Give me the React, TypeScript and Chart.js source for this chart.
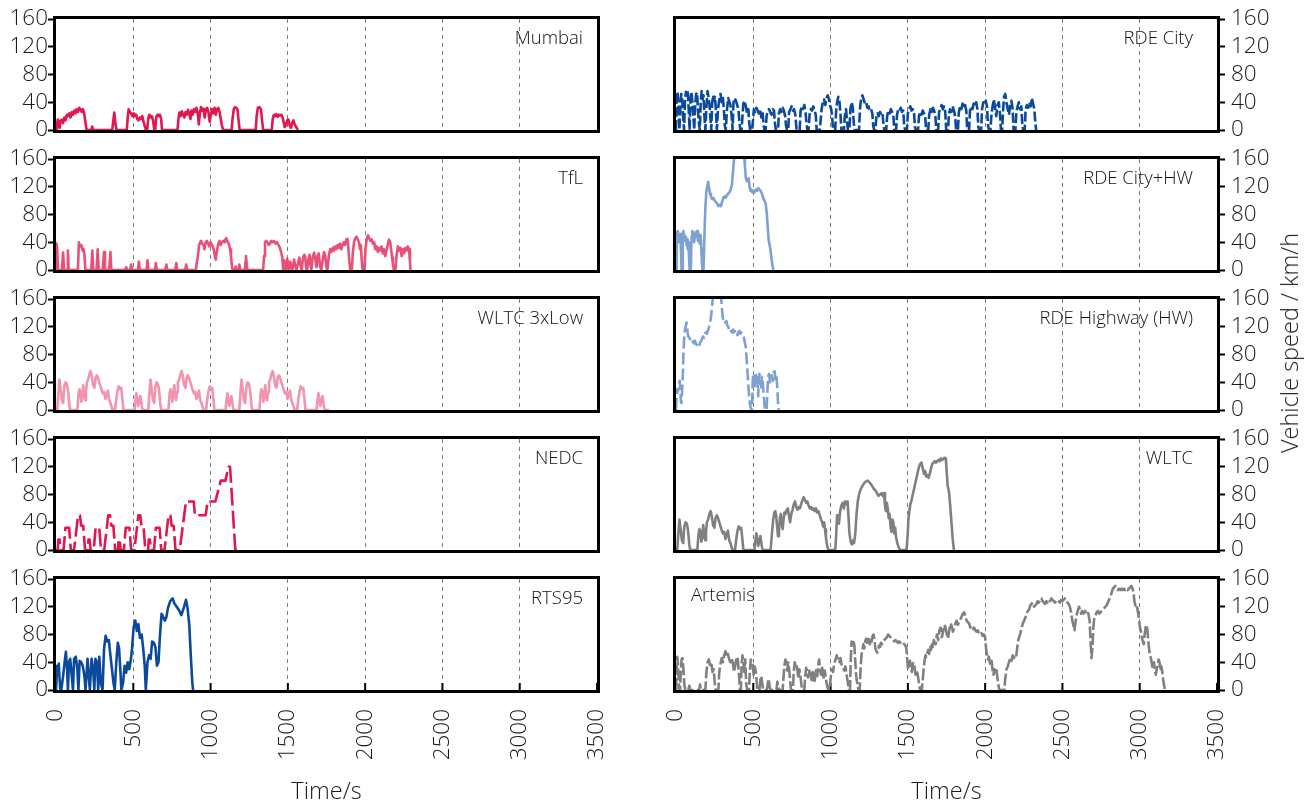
import React, { useEffect, useRef } from 'react';
import { Chart, registerables } from 'chart.js';

Chart.register(...registerables);
Chart.defaults.font.family = '"Open Sans", "DejaVu Sans", sans-serif';

type Pt = [number, number];

// ---- axis ticks -----------------------------------------------------------
const TIME_TICKS = [0, 500, 1000, 1500, 2000, 2500, 3000, 3500];
const SPEED_TICKS = [0, 40, 80, 120, 160];

// ---- drive cycles: [time s, speed km/h] -----------------------------------
const MUMBAI: Pt[] = [
  [0,0],[6,8],[12,15],[18,6],[24,3],[30,14],[38,15],[46,10],[54,18],[62,14],[70,22],[78,20],[86,24],[94,18],[102,26],[110,22],[118,28],[126,24],[134,30],[142,26],[150,32],[158,30],[166,26],[174,30],[182,24],[190,12],[198,0],
  [228,0],[234,5],[240,0],[364,0],[370,12],[377,25],[384,10],[392,0],
  [458,0],[464,18],[470,30],[478,26],[486,24],[494,20],[502,24],[510,20],[518,22],[526,16],[534,14],[542,18],[550,16],[558,20],[566,12],[574,6],[582,0],
  [590,0],[596,16],[604,22],[612,18],[620,20],[628,14],[636,0],[642,0],[648,18],[656,22],[664,20],[672,22],[680,16],[686,0],
  [786,0],[792,16],[798,25],[806,20],[814,27],[822,22],[830,18],[838,26],[846,22],[854,29],[862,24],[870,16],[876,28],[884,22],[892,30],[900,26],[908,32],[916,26],[924,8],[930,22],[938,33],[946,28],[954,31],[962,18],[970,30],[978,32],[986,26],[994,12],[1002,22],[1010,30],[1018,24],[1026,32],[1034,22],[1042,30],[1050,32],[1058,26],[1066,16],[1074,6],[1082,0],
  [1136,0],[1142,16],[1150,30],[1158,33],[1166,32],[1174,30],[1182,12],[1188,0],
  [1292,0],[1298,20],[1306,32],[1316,33],[1326,30],[1334,12],[1340,0],
  [1396,0],[1402,16],[1410,22],[1418,20],[1426,23],[1434,19],[1442,22],[1450,21],[1458,22],[1466,18],[1474,10],[1480,4],[1488,8],[1496,14],[1504,15],[1512,6],[1520,3],[1528,10],[1536,14],[1544,8],[1552,5],[1560,2],[1566,0],
];

const TFL: Pt[] = [
  [0,0],[3,38],[8,30],[13,0],[38,0],[46,25],[52,0],[72,0],[77,28],[82,0],[142,0],[148,40],[156,34],[164,36],[172,28],[178,30],[184,22],[190,0],
  [228,0],[235,28],[241,0],[262,0],[270,30],[276,0],[302,0],[311,26],[317,0],[344,0],[352,26],[358,0],
  [448,0],[454,4],[460,0],[480,0],[486,8],[492,0],[530,0],[536,12],[542,0],[586,0],[592,14],[598,0],[640,0],[646,10],[652,0],[708,0],[714,8],[720,0],[772,0],[778,10],[784,0],[836,0],[842,8],[848,0],[905,0],
  [912,12],[918,20],[926,36],[938,42],[946,38],[954,36],[960,30],[968,40],[976,42],[984,38],[992,34],[1000,40],[1010,36],[1020,30],[1028,20],[1034,15],[1040,26],[1050,38],[1058,42],[1066,36],[1074,40],[1082,42],[1090,40],[1096,44],[1102,46],[1110,40],[1118,38],[1126,30],[1132,20],[1138,6],[1142,0],
  [1156,0],[1162,5],[1166,0],[1180,0],[1186,8],[1192,0],[1222,0],[1226,12],[1229,20],[1234,8],[1238,0],[1340,0],
  [1346,20],[1352,40],[1360,42],[1368,40],[1376,36],[1384,38],[1392,42],[1400,40],[1410,42],[1420,38],[1430,40],[1440,36],[1448,32],[1456,26],[1464,18],[1470,0],
  [1476,14],[1482,6],[1488,0],[1496,16],[1502,8],[1508,0],[1516,12],[1522,4],[1530,0],[1540,15],[1548,6],[1556,0],[1566,10],[1574,18],[1582,6],[1590,0],[1598,18],[1606,22],[1612,20],[1618,4],[1624,0],[1632,14],[1640,22],[1646,8],[1652,0],[1660,18],[1670,25],[1678,14],[1686,4],[1692,20],[1700,24],[1708,6],[1716,0],[1724,12],[1734,26],[1742,20],[1750,4],[1756,0],
  [1766,22],[1774,30],[1782,26],[1790,32],[1798,28],[1806,34],[1814,30],[1822,36],[1830,32],[1838,38],[1846,30],[1854,36],[1862,40],[1870,36],[1878,44],[1886,45],[1892,30],[1898,12],[1904,0],
  [1914,0],[1920,24],[1928,40],[1936,46],[1944,48],[1952,44],[1960,40],[1966,30],[1972,36],[1978,14],[1984,0],
  [1996,0],[2002,30],[2010,44],[2018,50],[2026,46],[2034,42],[2042,44],[2050,38],[2058,40],[2066,30],[2074,34],[2082,26],[2090,32],[2098,28],[2106,34],[2114,24],[2122,30],[2130,20],[2138,28],[2146,36],[2154,44],[2162,40],[2168,30],[2174,18],[2180,8],[2186,0],
  [2196,0],[2204,22],[2212,34],[2220,28],[2228,32],[2236,20],[2244,30],[2252,24],[2260,32],[2268,28],[2276,34],[2284,30],[2290,12],[2294,0],
];

// One WLTC Class 3 low phase (0-589 s)
const WLTC_LOW: Pt[] = [
  [0,0],[8,0],[14,20],[22,44],[30,30],[38,14],[46,10],[54,34],[62,40],[70,38],[78,28],[86,8],[92,0],
  [138,0],[146,24],[152,30],[158,26],[164,12],[170,20],[176,36],[182,22],[188,14],[194,26],[200,40],[208,44],[216,52],[224,56],[232,48],[240,36],[248,32],[256,46],[264,50],[272,46],[280,40],[288,34],[296,28],[304,24],[312,26],[320,16],[328,22],[336,28],[344,14],[352,10],[360,4],[366,0],
  [382,0],[390,16],[398,28],[406,34],[414,30],[422,32],[430,14],[436,0],
  [508,0],[514,14],[520,24],[526,16],[532,6],[540,14],[546,20],[552,10],[558,2],[566,0],[589,0],
];
const LOW_PHASE_OFFSETS = [0, 589, 1178];

const WLTC_MEDIUM: Pt[] = [
  [612,0],[620,22],[628,42],[636,54],[642,56],[648,50],[654,34],[660,20],[666,26],[672,46],[678,52],[684,40],[690,30],[696,44],[702,54],[708,52],[716,58],[724,60],[730,50],[738,40],[746,52],[754,58],[762,66],[770,70],[778,62],[786,58],[794,62],[802,60],[810,66],[818,72],[826,76],[834,72],[842,68],[850,70],[858,64],[866,60],[874,62],[882,58],[890,60],[898,56],[906,60],[914,54],[922,56],[930,50],[938,44],[946,40],[952,34],[958,40],[964,30],[970,18],[978,6],[986,0],[1030,0],
];
const WLTC_HIGH: Pt[] = [
  [1036,20],[1042,50],[1048,44],[1054,38],[1062,56],[1070,64],[1078,68],[1086,60],[1094,70],[1102,66],[1110,70],[1116,48],[1122,24],[1130,12],[1138,8],[1146,14],[1152,10],[1160,24],[1168,52],[1176,70],[1184,80],[1192,86],[1200,90],[1210,94],[1220,97],[1230,99],[1240,100],[1250,98],[1260,95],[1270,92],[1280,88],[1290,86],[1300,82],[1310,78],[1320,80],[1330,82],[1338,78],[1346,82],[1352,64],[1358,56],[1364,68],[1370,60],[1376,46],[1382,52],[1388,34],[1394,26],[1400,44],[1406,40],[1412,24],[1418,32],[1424,18],[1432,10],[1440,4],[1450,0],[1492,0],
];
const WLTC_EXTRA_HIGH: Pt[] = [
  [1498,20],[1504,44],[1510,56],[1516,66],[1522,70],[1528,76],[1534,82],[1540,88],[1548,96],[1556,104],[1564,112],[1572,120],[1580,124],[1588,126],[1596,118],[1604,110],[1612,114],[1618,106],[1626,108],[1634,104],[1642,110],[1650,118],[1658,124],[1666,126],[1674,128],[1682,126],[1690,128],[1698,130],[1706,128],[1714,132],[1722,130],[1730,131],[1738,133],[1746,132],[1752,110],[1758,92],[1766,84],[1774,64],[1782,40],[1790,16],[1798,0],
];

const NEDC: Pt[] = [
  [0,0],[11,0],[15,15],[23,15],[28,0],[49,0],[61,32],[85,32],[96,0],[117,0],[143,50],[155,50],[163,35],[176,35],[188,0],
  [206,0],[210,15],[218,15],[223,0],[244,0],[256,32],[280,32],[291,0],[312,0],[338,50],[350,50],[358,35],[371,35],[383,0],
  [401,0],[405,15],[413,15],[418,0],[439,0],[451,32],[475,32],[486,0],[507,0],[533,50],[545,50],[553,35],[566,35],[578,0],
  [596,0],[600,15],[608,15],[613,0],[634,0],[646,32],[670,32],[681,0],[702,0],[728,50],[740,50],[748,35],[761,35],[773,0],
  [800,0],[841,70],[891,70],[899,50],[968,50],[981,70],[1031,70],[1066,100],[1096,100],[1116,120],[1126,120],[1160,0],[1180,0],
];

const RTS95: Pt[] = [
  [0,0],[8,35],[14,28],[18,38],[22,20],[28,0],[34,0],[46,20],[56,40],[64,55],[72,30],[77,0],[84,40],[92,45],[102,20],[110,0],[117,45],[128,48],[138,30],[145,0],[153,42],[163,40],[173,35],[184,20],[191,0],[204,45],[212,20],[219,0],[230,45],[240,30],[248,0],[255,45],[265,40],[273,0],[280,48],[290,10],[301,0],
  [311,60],[321,78],[331,70],[342,72],[352,50],[362,30],[372,10],[380,0],[390,40],[400,68],[408,60],[416,30],[423,0],[434,10],[444,35],[454,25],[464,40],[474,30],[485,45],[492,60],[502,90],[513,100],[523,85],[533,95],[543,75],[554,80],[564,60],[574,35],[581,0],
  [592,40],[602,50],[612,45],[622,70],[633,68],[643,62],[653,35],[663,40],[673,80],[683,110],[694,105],[704,100],[714,105],[724,118],[739,128],[755,132],[765,125],[781,120],[796,115],[811,108],[826,118],[841,130],[851,118],[862,95],[872,50],[882,10],[887,0],
];

const RDE_CITY: Pt[] = [
  [0,0],[4,50],[10,55],[16,40],[22,0],[28,30],[34,52],[40,46],[46,20],[52,0],[58,40],[64,55],[70,50],[76,56],[82,30],[88,0],[94,45],[100,55],[106,40],[112,20],[118,0],[124,36],[130,52],[136,54],[142,30],[148,10],[154,0],[160,40],[166,56],[172,44],[178,50],[184,20],[190,0],[196,30],[204,56],[210,48],[216,38],[222,20],[228,0],[234,38],[240,50],[246,42],[252,48],[258,30],[264,0],[272,30],[280,44],[288,52],[296,40],[304,46],[310,28],[316,6],[322,0],[330,30],[338,46],[346,40],[352,36],[360,20],[366,0],
  [372,40],[380,46],[388,42],[396,36],[404,30],[410,12],[416,0],[424,0],[430,20],[436,38],[444,42],[452,34],[460,24],[468,30],[474,10],[480,0],[492,0],[498,14],[504,30],[512,26],[520,32],[528,28],[536,24],[544,30],[552,18],[560,26],[566,8],[572,0],[580,0],[586,20],[594,28],[602,30],[610,26],[618,22],[626,30],[634,28],[640,10],[646,0],[660,0],[666,24],[674,30],[682,26],[690,32],[698,28],[706,20],[712,6],[718,0],[726,0],[732,26],[740,30],[748,34],[756,28],[764,30],[772,22],[780,0],
  [800,0],[806,28],[814,34],[822,30],[830,36],[838,26],[844,10],[850,0],[858,0],[864,22],[872,30],[880,28],[888,34],[896,28],[904,22],[910,0],[930,0],[936,14],[942,30],[950,40],[958,44],[966,36],[974,46],[982,50],[990,44],[996,36],[1004,30],[1010,20],[1016,0],[1030,0],[1036,28],[1042,40],[1050,48],[1058,40],[1064,24],[1070,0],[1086,0],[1092,20],[1100,30],[1106,14],[1112,0],[1122,0],[1128,30],[1136,40],[1144,32],[1150,10],[1156,0],
  [1184,0],[1190,30],[1198,46],[1206,50],[1214,44],[1222,38],[1230,40],[1238,32],[1246,34],[1254,28],[1262,30],[1270,24],[1276,6],[1282,0],[1290,0],[1296,18],[1304,24],[1312,20],[1320,26],[1328,22],[1336,24],[1342,8],[1348,0],[1360,0],[1366,20],[1374,28],[1382,24],[1390,30],[1398,26],[1406,22],[1412,0],[1424,0],[1430,22],[1438,30],[1446,28],[1454,32],[1462,26],[1470,28],[1476,8],[1482,0],[1494,0],[1500,24],[1508,30],[1516,34],[1524,28],[1532,30],[1540,24],[1546,4],[1552,0],
  [1566,0],[1572,20],[1580,26],[1588,22],[1596,28],[1604,24],[1612,20],[1618,0],[1632,0],[1638,22],[1646,30],[1654,26],[1662,32],[1670,28],[1678,20],[1684,0],[1696,0],[1702,26],[1710,30],[1718,36],[1726,30],[1734,34],[1742,26],[1748,0],[1760,0],[1766,24],[1774,30],[1782,26],[1790,34],[1798,28],[1806,20],[1812,0],[1824,0],[1830,26],[1838,34],[1846,30],[1854,38],[1862,32],[1870,36],[1878,28],[1884,0],
  [1896,0],[1902,28],[1910,34],[1918,30],[1926,38],[1934,34],[1942,40],[1950,30],[1956,4],[1962,0],[1974,0],[1980,30],[1988,40],[1996,36],[2004,42],[2012,34],[2018,8],[2024,0],[2034,0],[2040,20],[2048,34],[2056,44],[2064,32],[2072,20],[2080,36],[2088,40],[2096,24],[2102,0],[2110,0],[2116,28],[2122,48],[2130,52],[2138,40],[2146,30],[2154,22],[2162,36],[2170,42],[2178,30],[2184,0],
  [2196,0],[2202,26],[2210,34],[2218,40],[2226,30],[2234,34],[2240,10],[2246,0],[2256,0],[2262,30],[2270,36],[2278,32],[2286,40],[2294,34],[2302,46],[2310,38],[2318,30],[2324,12],[2330,0],
];

const RDE_CITY_HW: Pt[] = [
  [0,0],[4,54],[8,46],[12,56],[16,40],[20,48],[24,44],[28,52],[32,30],[36,0],[40,0],[44,50],[48,56],[52,44],[56,50],[60,42],[64,48],[68,36],[72,44],[76,30],[80,40],[84,20],[88,0],[96,0],[100,42],[106,56],[112,50],[118,40],[124,54],[130,48],[136,56],[142,42],[148,52],[154,38],[160,50],[164,30],[168,10],[172,0],[178,0],
  [184,50],[190,90],[196,112],[202,120],[208,127],[214,118],[220,110],[226,106],[234,102],[242,104],[250,100],[258,98],[266,96],[274,92],[282,94],[290,92],[298,98],[306,104],[314,106],[322,104],[330,108],[338,110],[346,112],[354,116],[362,124],[368,140],[374,156],[380,166],[420,168],[440,166],[446,150],[452,132],[458,128],[464,130],[470,132],[476,120],[482,114],[488,116],[494,112],[500,114],[508,112],[516,116],[524,114],[532,118],[540,116],[548,114],[556,110],[564,104],[572,100],[580,96],[588,80],[594,60],[600,42],[606,36],[612,28],[618,16],[624,6],[630,0],
];

const RDE_HW: Pt[] = [
  [0,0],[4,20],[8,30],[12,26],[16,34],[20,38],[24,42],[28,30],[32,12],[36,10],[40,30],[44,48],[48,80],[52,100],[56,112],[60,118],[64,122],[68,126],[72,118],[76,110],[80,106],[86,104],[92,102],[98,104],[104,100],[110,98],[116,96],[122,100],[128,96],[134,94],[140,92],[146,96],[152,94],[158,98],[164,100],[170,104],[176,106],[182,104],[188,110],[194,112],[200,110],[206,114],[212,118],[218,124],[224,130],[230,142],[236,156],[240,166],[290,166],[296,150],[302,134],[308,128],[314,130],[320,126],[326,128],[332,122],[338,120],[344,116],[350,118],[356,114],[362,112],[368,116],[374,112],[380,114],[386,110],[392,112],[398,108],[404,112],[410,114],[416,110],[422,112],[428,108],[434,106],[440,104],[446,96],[452,90],[458,70],[464,50],[470,28],[476,14],[482,4],[488,0],
  [492,0],[496,40],[500,52],[504,40],[508,30],[512,46],[516,54],[520,40],[524,50],[528,36],[532,20],[536,44],[540,52],[544,38],[548,42],[552,30],[556,48],[560,44],[564,30],[568,20],[572,8],[576,0],[586,0],[590,20],[596,48],[602,52],[608,40],[614,46],[620,50],[626,42],[632,54],[638,56],[644,44],[650,50],[656,30],[660,10],[664,0],
];

const ARTEMIS: Pt[] = [
  [0,0],[4,30],[8,48],[12,40],[16,20],[20,0],[26,0],[30,20],[36,44],[42,46],[48,30],[54,8],[60,0],[80,0],[86,6],[92,0],[150,0],[156,8],[160,0],[190,0],[196,24],[204,40],[212,44],[220,36],[228,40],[236,26],[244,30],[250,12],[256,0],[274,0],[280,26],[288,38],[296,46],[304,40],[312,50],[320,56],[328,48],[336,52],[344,44],[352,40],[360,46],[368,38],[376,26],[384,36],[392,48],[400,44],[408,20],[414,0],[420,0],[424,36],[430,50],[436,40],[442,26],[448,44],[454,10],[460,0],[472,0],[478,28],[484,44],[490,40],[496,36],[502,22],[508,34],[514,30],[520,18],[526,0],[540,0],[546,14],[552,20],[558,10],[564,0],[588,0],[594,10],[600,16],[606,4],[612,0],[650,0],[656,12],[662,4],[668,0],[690,0],[696,20],[702,36],[708,44],[714,34],[720,28],[726,40],[732,30],[738,14],[744,0],[756,0],[762,26],[768,40],[774,34],[780,36],[786,28],[792,16],[798,30],[804,22],[810,10],[816,0],[830,0],[836,20],[842,32],[848,28],[854,18],[860,24],[866,30],[872,22],[878,14],[884,26],[890,20],[896,10],[902,24],[908,30],[914,20],[920,36],[926,44],[932,30],[938,22],[944,34],[950,26],[956,16],[962,28],[968,20],[974,10],[980,4],[986,0],[993,0],
  [1000,16],[1008,30],[1016,26],[1024,38],[1032,44],[1040,50],[1048,44],[1056,40],[1064,46],[1072,36],[1080,32],[1088,28],[1096,34],[1104,22],[1112,10],[1118,0],[1126,0],[1130,40],[1136,70],[1142,66],[1148,72],[1154,64],[1160,40],[1166,20],[1172,10],[1180,0],[1188,0],[1194,30],[1200,50],[1206,58],[1212,66],[1218,60],[1224,70],[1230,74],[1236,68],[1242,76],[1248,72],[1254,66],[1260,74],[1266,70],[1272,78],[1278,80],[1284,72],[1290,60],[1296,56],[1302,54],[1308,58],[1314,64],[1320,62],[1326,68],[1332,66],[1340,70],[1348,72],[1356,74],[1364,76],[1372,80],[1380,78],[1388,76],[1396,74],[1404,72],[1412,70],[1420,72],[1428,70],[1436,68],[1444,70],[1452,68],[1460,66],[1468,68],[1476,66],[1484,64],[1490,60],[1496,44],[1502,30],[1508,36],[1514,42],[1520,30],[1526,26],[1532,38],[1538,40],[1544,32],[1550,22],[1556,28],[1562,24],[1568,16],[1574,6],[1580,0],[1590,0],[1596,14],[1602,30],[1608,42],[1614,50],[1620,48],[1626,54],[1632,58],[1638,52],[1644,62],[1650,58],[1656,66],[1662,62],[1668,72],[1674,66],
  [1680,66],[1688,80],[1696,72],[1704,86],[1712,90],[1720,76],[1728,84],[1736,94],[1744,90],[1752,80],[1760,74],[1768,86],[1776,96],[1784,92],[1792,84],[1800,90],[1808,96],[1816,100],[1824,94],[1832,98],[1840,102],[1848,106],[1856,110],[1864,112],[1872,106],[1880,100],[1888,98],[1896,96],[1904,90],[1912,92],[1920,88],[1928,90],[1936,86],[1944,84],[1952,86],[1960,82],[1968,80],[1976,82],[1984,78],[1992,80],[2000,76],[2006,60],[2012,50],[2018,44],[2024,48],[2030,40],[2036,36],[2042,42],[2048,28],[2054,22],[2060,30],[2066,26],[2072,32],[2078,20],[2084,10],[2090,2],[2096,0],[2124,0],
  [2130,16],[2138,30],[2146,34],[2154,40],[2162,46],[2170,42],[2178,50],[2186,46],[2194,52],[2202,50],[2208,62],[2214,72],[2220,76],[2228,82],[2236,90],[2244,96],[2252,100],[2260,104],[2268,110],[2276,114],[2284,116],[2292,122],[2300,124],[2308,126],[2316,120],[2324,122],[2332,124],[2340,128],[2348,126],[2356,130],[2364,132],[2372,128],[2380,126],[2388,124],[2396,128],[2404,126],[2412,130],[2420,128],[2428,132],[2436,130],[2444,128],[2452,126],[2460,128],[2468,130],[2476,128],[2484,126],[2492,130],[2500,128],[2508,130],[2516,132],[2524,130],[2532,126],[2540,124],[2548,120],[2556,112],[2564,100],[2572,92],[2578,86],[2584,96],[2590,106],[2596,112],[2602,116],[2608,120],[2614,114],[2620,110],[2628,114],[2636,110],[2644,112],[2652,116],[2660,112],[2668,110],[2676,100],[2682,70],[2688,46],[2694,60],[2700,90],[2706,104],[2714,108],[2722,112],[2730,114],[2738,110],[2746,112],[2754,114],[2762,116],[2770,118],[2778,120],[2786,122],[2794,126],[2802,130],[2810,134],[2818,140],[2826,146],[2834,148],[2842,150],[2850,146],[2858,144],[2866,146],[2874,144],[2882,146],[2890,144],[2898,146],[2906,144],[2914,146],[2922,144],[2930,146],[2938,148],[2946,150],[2954,146],[2960,140],[2966,128],[2972,122],[2978,124],[2984,118],[2990,110],[2996,100],[3002,90],[3008,84],[3014,76],[3020,70],[3026,66],[3032,80],[3038,90],[3044,94],[3050,86],[3056,70],[3062,56],[3068,50],[3074,44],[3080,36],[3086,30],[3092,40],[3098,28],[3104,22],[3110,30],[3116,36],[3122,44],[3128,40],[3134,28],[3140,34],[3146,26],[3152,14],[3158,6],[3164,0],[3170,0],
];

const WLTC_3XLOW: Pt[] = LOW_PHASE_OFFSETS.flatMap((o) => WLTC_LOW.map(([t, v]) => [t + o, v] as Pt));
const WLTC: Pt[] = [...WLTC_LOW, ...WLTC_MEDIUM, ...WLTC_HIGH, ...WLTC_EXTRA_HIGH];

// ---- colours --------------------------------------------------------------
const CRIMSON = '#e3174f';
const ROSE = '#ea5077';
const PINK = '#f294ad';
const NAVY = '#0b4a9b';
const SKY = '#7da1d1';
const GREY = '#808080';
const TEXT = '#1a1a1a';

type PanelDef = {
  name: string;
  series: Pt[];
  col: number;
  row: number;
  color: string;
  dash: number[];
  labelLeft?: boolean;
};

const PANELS: PanelDef[] = [
  { name: 'Mumbai', series: MUMBAI, col: 0, row: 0, color: CRIMSON, dash: [] },
  { name: 'TfL', series: TFL, col: 0, row: 1, color: ROSE, dash: [] },
  { name: 'WLTC 3xLow', series: WLTC_3XLOW, col: 0, row: 2, color: PINK, dash: [] },
  { name: 'NEDC', series: NEDC, col: 0, row: 3, color: CRIMSON, dash: [18, 5] },
  { name: 'RTS95', series: RTS95, col: 0, row: 4, color: NAVY, dash: [] },
  { name: 'RDE City', series: RDE_CITY, col: 1, row: 0, color: NAVY, dash: [10, 3] },
  { name: 'RDE City+HW', series: RDE_CITY_HW, col: 1, row: 1, color: SKY, dash: [] },
  { name: 'RDE Highway (HW)', series: RDE_HW, col: 1, row: 2, color: SKY, dash: [12, 4] },
  { name: 'WLTC', series: WLTC, col: 1, row: 3, color: GREY, dash: [] },
  { name: 'Artemis', series: ARTEMIS, col: 1, row: 4, color: GREY, dash: [12, 3], labelLeft: true },
];

// ---- layout ---------------------------------------------------------------
const PLOT_LEFT = [56, 676];
const PLOT_W = 541;
const PLOT_TOP = 19;
const ROW_PITCH = 140;
const PLOT_H = 111;
const PAD = 16;
const AXIS_W = [56, 70];
const XAXIS_H = 80;
const LAST_ROW = 4;
const FONT_FAMILY = '"Open Sans", "DejaVu Sans", sans-serif';
const TICK_FONT = { size: 22.5, weight: '300' };

function geometry(p: PanelDef) {
  const bottomRow = p.row === LAST_ROW;
  const x = p.col === 0 ? PLOT_LEFT[0] - AXIS_W[0] : PLOT_LEFT[1] - PAD;
  const w = p.col === 0 ? AXIS_W[0] + PLOT_W + PAD : PAD + PLOT_W + AXIS_W[1];
  const y = PLOT_TOP + p.row * ROW_PITCH - PAD;
  const h = PAD + PLOT_H + (bottomRow ? XAXIS_H : PAD);
  return { x, y, w, h, bottomRow };
}

// Frame, inner time ticks and the cycle name
const framePlugin = {
  id: 'frame',
  beforeDatasetsDraw(chart: any, _args: any, opts: any) {
    const { ctx, chartArea: a } = chart;
    ctx.save();
    if (opts.innerTicks) {
      const xs = chart.scales.x;
      ctx.strokeStyle = '#000';
      ctx.lineWidth = 2;
      xs.ticks.forEach((t: any) => {
        const px = xs.getPixelForValue(t.value);
        ctx.beginPath();
        ctx.moveTo(px, a.bottom);
        ctx.lineTo(px, a.bottom - 7);
        ctx.stroke();
      });
    }
    ctx.strokeStyle = '#000';
    ctx.lineWidth = 3;
    ctx.strokeRect(a.left - 1.5, a.top - 1.5, a.right - a.left + 3, a.bottom - a.top + 3);
    ctx.restore();
  },
  afterDatasetsDraw(chart: any, _args: any, opts: any) {
    const { ctx, chartArea: a } = chart;
    ctx.save();
    ctx.font = `300 18.5px ${FONT_FAMILY}`;
    ctx.fillStyle = '#111111';
    ctx.textBaseline = 'middle';
    if (opts.labelLeft) {
      ctx.textAlign = 'left';
      ctx.fillText(opts.label, a.left + 15, a.top + 17);
    } else {
      ctx.textAlign = 'right';
      ctx.fillText(opts.label, a.right - opts.inset, a.top + 20);
    }
    ctx.restore();
  },
};

function Panel({ p }: { p: PanelDef }) {
  const ref = useRef<HTMLCanvasElement>(null);
  const g = geometry(p);

  useEffect(() => {
    const canvas = ref.current;
    if (!canvas) return;
    const right = p.col === 1;
    const chart = new Chart(canvas, {
      type: 'line',
      data: {
        datasets: [
          {
            data: p.series.map(([t, v]) => ({ x: t, y: v })),
            borderColor: p.color,
            borderWidth: 2.6,
            borderDash: p.dash,
            pointRadius: 0,
            tension: 0,
            fill: false,
            borderJoinStyle: 'round',
          },
        ],
      },
      options: {
        responsive: false,
        maintainAspectRatio: false,
        animation: false,
        devicePixelRatio: 1,
        parsing: false,
        events: [],
        layout: {
          padding: {
            left: right ? PAD : 0,
            right: right ? 0 : PAD,
            top: PAD,
            bottom: g.bottomRow ? 0 : PAD,
          },
        },
        plugins: {
          legend: { display: false },
          tooltip: { enabled: false },
          frame: { label: p.name, labelLeft: !!p.labelLeft, inset: right ? 24 : 14, innerTicks: g.bottomRow },
        } as any,
        scales: {
          x: {
            type: 'linear',
            min: TIME_TICKS[0],
            max: TIME_TICKS[TIME_TICKS.length - 1],
            afterBuildTicks: (s: any) => {
              s.ticks = TIME_TICKS.map((v) => ({ value: v }));
            },
            afterFit: (s: any) => {
              s.height = g.bottomRow ? XAXIS_H : 0;
              s.paddingLeft = 0;
              s.paddingRight = 0;
            },
            grid: {
              color: (c: any) =>
                c.tick && (c.tick.value === TIME_TICKS[0] || c.tick.value === TIME_TICKS[TIME_TICKS.length - 1])
                  ? 'rgba(0,0,0,0)'
                  : '#7a7a7a',
              lineWidth: 1,
              drawTicks: false,
            },
            border: { display: false, dash: [4, 4] },
            ticks: {
              display: g.bottomRow,
              autoSkip: false,
              minRotation: 90,
              maxRotation: 90,
              padding: 19,
              color: TEXT,
              font: TICK_FONT,
              callback: (v: any) => String(v),
            },
          },
          y: {
            position: right ? 'right' : 'left',
            min: SPEED_TICKS[0],
            max: SPEED_TICKS[SPEED_TICKS.length - 1],
            afterBuildTicks: (s: any) => {
              s.ticks = SPEED_TICKS.map((v) => ({ value: v }));
            },
            afterFit: (s: any) => {
              s.width = AXIS_W[p.col];
              s.paddingTop = 0;
              s.paddingBottom = 0;
            },
            grid: {
              drawOnChartArea: false,
              drawTicks: true,
              tickLength: 8,
              tickColor: '#000',
              tickWidth: 2,
            },
            border: { display: false },
            ticks: {
              autoSkip: false,
              padding: right ? 6 : 0,
              color: TEXT,
              font: TICK_FONT,
              callback: (v: any) => String(v),
            },
          },
        },
      } as any,
      plugins: [framePlugin as any],
    });
    return () => chart.destroy();
  }, []);

  return (
    <canvas
      ref={ref}
      width={g.w}
      height={g.h}
      style={{ position: 'absolute', left: g.x, top: g.y, width: g.w, height: g.h }}
    />
  );
}

export default function App() {
  return (
    <div
      style={{
        position: 'absolute',
        left: 0,
        top: 0,
        width: 1309,
        height: 802,
        background: '#ffffff',
        overflow: 'hidden',
        fontFamily: FONT_FAMILY,
        fontWeight: 300,
        color: TEXT,
      }}
    >
      {PANELS.map((p) => (
        <Panel key={p.name} p={p} />
      ))}
      {PLOT_LEFT.map((left) => (
        <div
          key={left}
          style={{
            position: 'absolute',
            left,
            width: PLOT_W,
            top: 775,
            textAlign: 'center',
            fontSize: 23.5,
            lineHeight: '30px',
          }}
        >
          Time/s
        </div>
      ))}
      <div
        style={{
          position: 'absolute',
          left: 1289,
          top: 343,
          transform: 'translate(-50%, -50%) rotate(-90deg)',
          whiteSpace: 'nowrap',
          fontSize: 23.5,
          lineHeight: '30px',
        }}
      >
        Vehicle speed / km/h
      </div>
    </div>
  );
}
